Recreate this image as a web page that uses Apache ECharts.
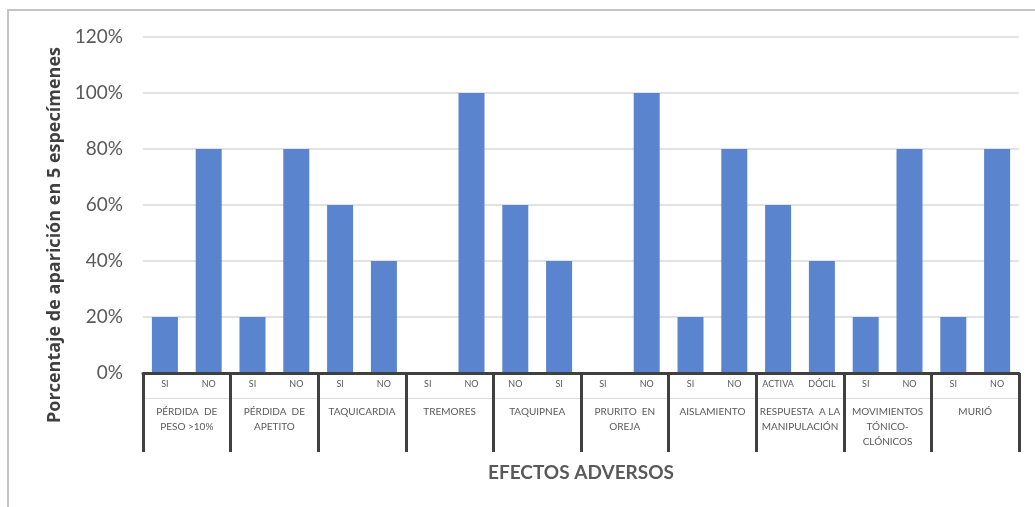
<!DOCTYPE html>
<html>
<head>
<meta charset="utf-8">
<script src="https://cdn.jsdelivr.net/npm/echarts@6/dist/echarts.min.js"></script>
<style>
  html, body { margin: 0; padding: 0; background: #ffffff; }
  #chart { width: 1035px; height: 507px; }
</style>
</head>
<body>
<div id="chart"></div>
<script>
// Adverse effects observed in 5 specimens (percentage of appearance)
const groupLabels = [
  'PÉRDIDA  DE\nPESO >10%',
  'PÉRDIDA  DE\nAPETITO',
  'TAQUICARDIA',
  'TREMORES',
  'TAQUIPNEA',
  'PRURITO  EN\nOREJA',
  'AISLAMIENTO',
  'RESPUESTA  A LA\nMANIPULACIÓN',
  'MOVIMIENTOS\nTÓNICO-\nCLÓNICOS',
  'MURIÓ'
];
const subLabels = [
  'SI', 'NO',
  'SI', 'NO',
  'SI', 'NO',
  'SI', 'NO',
  'NO', 'SI',
  'SI', 'NO',
  'SI', 'NO',
  'ACTIVA', 'DÓCIL',
  'SI', 'NO',
  'SI', 'NO'
];
const percentValues = [
  20, 80,
  20, 80,
  60, 40,
  0, 100,
  60, 40,
  0, 100,
  20, 80,
  60, 40,
  20, 80,
  20, 80
];
const yTicks = { min: 0, max: 120, step: 20 };

const FONT = 'Lato, "Open Sans", sans-serif';
const chart = echarts.init(document.getElementById('chart'), null, { renderer: 'canvas' });

chart.setOption({
  animation: false,
  backgroundColor: '#ffffff',
  textStyle: { fontFamily: FONT },
  grid: { left: 143, right: 16, top: 37, bottom: 134, containLabel: false },
  graphic: [
    {
      type: 'rect',
      shape: { x: 8, y: 10, width: 1200, height: 700 },
      style: { fill: 'none', stroke: '#c4c4c4', lineWidth: 2 },
      silent: true
    },
    {
      type: 'text',
      x: 55,
      y: 235,
      rotation: Math.PI / 2,
      style: {
        text: 'Porcentaje de aparición en 5 especímenes',
        fill: '#404040',
        font: 'bold 18px "Open Sans", sans-serif',
        textAlign: 'center',
        textVerticalAlign: 'middle'
      },
      silent: true
    }
  ],
  xAxis: [
    {
      type: 'category',
      data: subLabels,
      position: 'bottom',
      axisLine: { show: true, lineStyle: { color: '#404040', width: 3 } },
      axisTick: { show: false },
      axisLabel: { interval: 0, margin: 7, fontSize: 9, color: '#595959', fontFamily: FONT },
      splitLine: { show: false },
      name: 'EFECTOS ADVERSOS',
      nameLocation: 'middle',
      nameGap: 90,
      nameTextStyle: { fontSize: 19, fontWeight: 'bold', color: '#595959', fontFamily: FONT },
      z: 5
    },
    {
      type: 'category',
      data: groupLabels,
      position: 'bottom',
      axisLine: { show: false },
      axisTick: { show: true, interval: 0, length: 79, lineStyle: { color: '#404040', width: 3 } },
      axisLabel: { interval: 0, margin: 31, fontSize: 10, lineHeight: 15, color: '#595959', fontFamily: FONT },
      splitLine: { show: false },
      z: 4
    },
    {
      type: 'category',
      data: groupLabels,
      position: 'bottom',
      offset: 25,
      axisLine: { show: true, lineStyle: { color: '#dcdcdc', width: 1 } },
      axisTick: { show: false },
      axisLabel: { show: false },
      splitLine: { show: false },
      z: 3
    }
  ],
  yAxis: {
    type: 'value',
    min: yTicks.min,
    max: yTicks.max,
    interval: yTicks.step,
    axisLine: { show: false },
    axisTick: { show: false },
    axisLabel: { formatter: '{value}%', fontSize: 19, color: '#595959', margin: 20, fontFamily: FONT },
    splitLine: { lineStyle: { color: '#d9d9d9', width: 1.5 } }
  },
  series: [
    {
      type: 'bar',
      xAxisIndex: 0,
      yAxisIndex: 0,
      data: percentValues,
      barWidth: 26,
      itemStyle: { color: '#5B84CE' },
      silent: true
    }
  ]
});
</script>
</body>
</html>
